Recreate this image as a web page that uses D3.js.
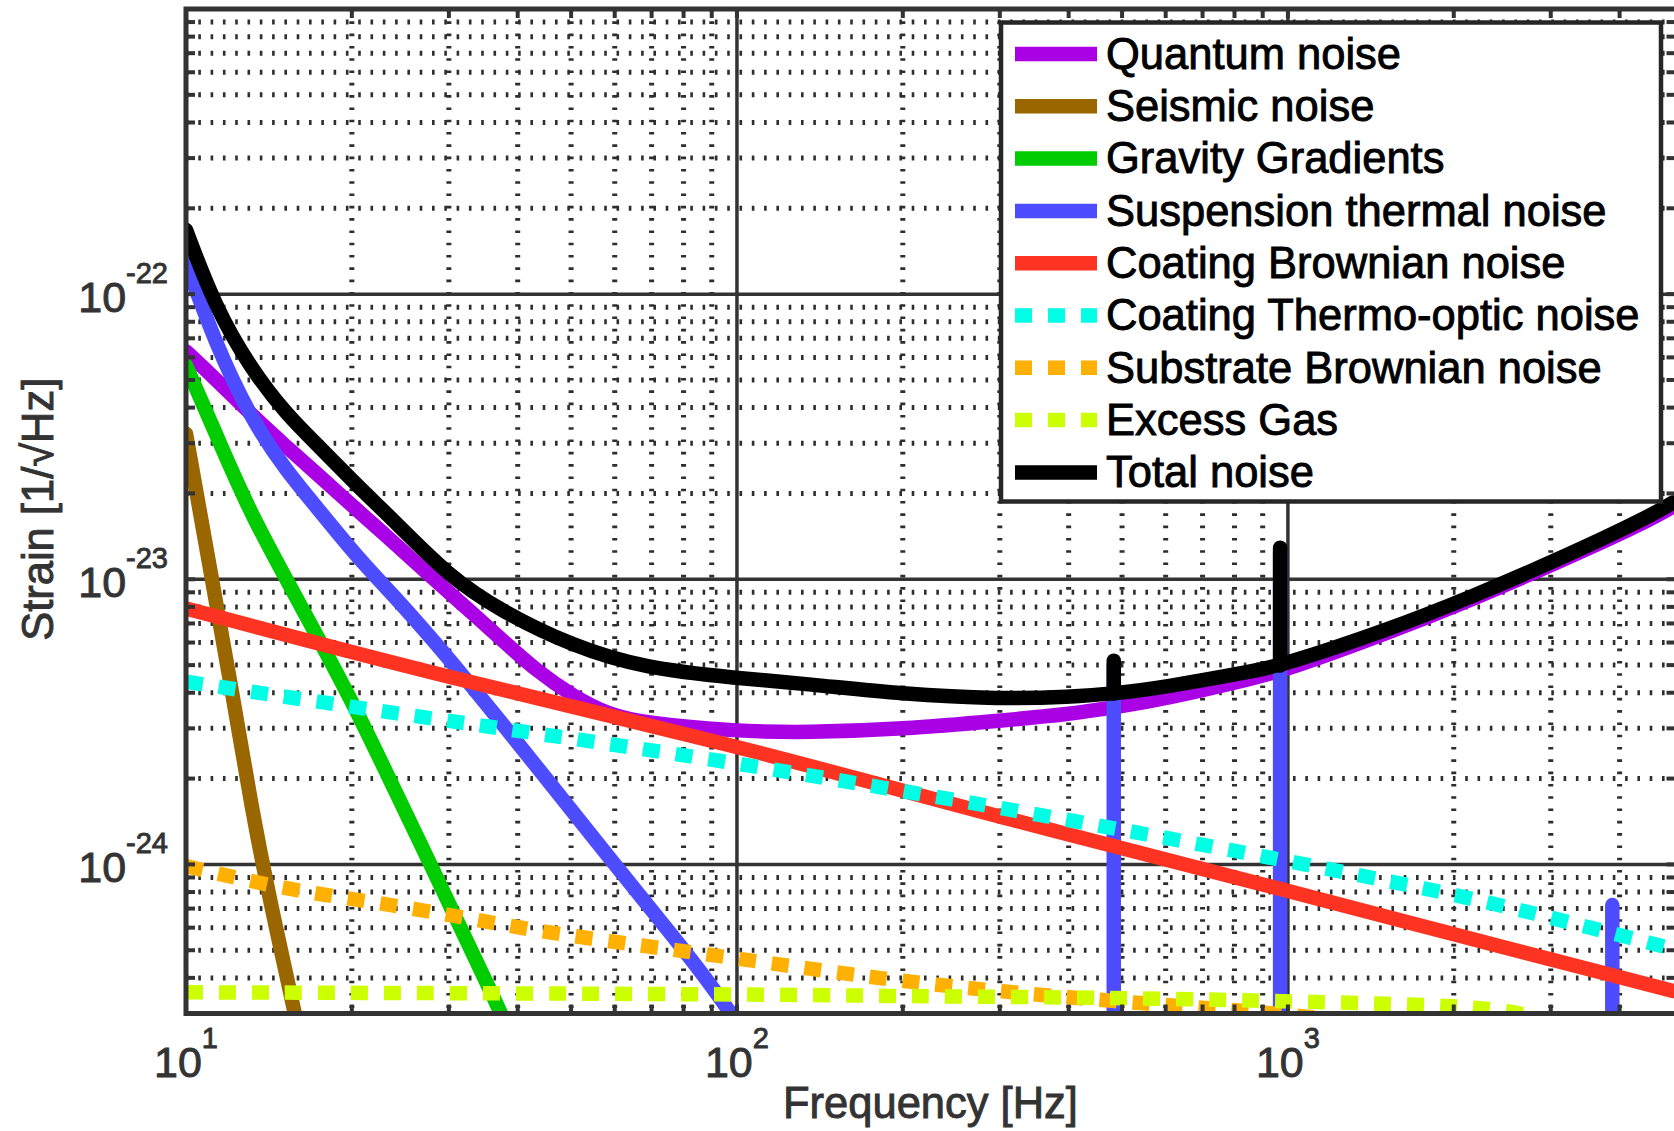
<!DOCTYPE html>
<html>
<head>
<meta charset="utf-8">
<script src="https://cdn.jsdelivr.net/npm/d3@7"></script>
<style>
  html, body { margin:0; padding:0; background:#fff; }
  svg { display:block; }
  text { font-family: "Liberation Sans", Arial, Helvetica, sans-serif; }
</style>
</head>
<body>
<svg id="chart" width="1674" height="1131"></svg>
<script>
// ─── Data ([Hz, strain]) ─────────────────────────────────
const seriesNames = [
  'Quantum noise', 'Seismic noise', 'Gravity Gradients', 'Suspension thermal noise',
  'Coating Brownian noise', 'Coating Thermo-optic noise', 'Substrate Brownian noise',
  'Excess Gas', 'Total noise'
];

const quantumNoise = [
  [10, 6.3e-23], [11.3, 5.05e-23], [13.1, 3.8e-23], [15.2, 2.92e-23], [17.7, 2.25e-23],
  [20.5, 1.74e-23], [23.9, 1.34e-23], [27.7, 1.03e-23], [32.2, 7.98e-24], [37.3, 6.17e-24],
  [43.4, 4.75e-24], [50.4, 3.89e-24], [58.3, 3.36e-24], [67.8, 3.13e-24], [100, 2.93e-24],
  [134, 2.9e-24], [200, 2.98e-24], [300, 3.19e-24], [404, 3.37e-24], [483, 3.55e-24],
  [596, 3.8e-24], [879, 4.53e-24], [1000, 4.84e-24], [1512, 6.46e-24], [2166, 8.51e-24],
  [3102, 1.15e-23], [4447, 1.58e-23], [5000, 1.8e-23]
];

const seismicNoise = [
  [10, 3.24e-23], [11.32, 8.43e-24], [12.2, 3.77e-24], [13.14, 1.6e-24],
  [14.17, 7.6e-25], [15.7, 3.1e-25], [16.5, 2.0e-25]
];

const gravityGradients = [
  [10, 5.62e-23], [11.3, 3.28e-23], [13.1, 1.69e-23], [15.96, 8.43e-24], [20, 3.77e-24],
  [23.9, 1.83e-24], [29.8, 7.53e-25], [36.3, 3.37e-25], [40, 2.24e-25]
];

const suspensionThermal = [
  [10, 1.29e-22], [11.3, 6.73e-23], [13.1, 3.67e-23], [15.2, 2.4e-23], [17.7, 1.69e-23],
  [20.5, 1.19e-23], [23.9, 8.71e-24], [27.7, 6.31e-24], [32.2, 4.47e-24], [37.3, 3.16e-24],
  [43.4, 2.19e-24], [58.3, 1.07e-24], [78.7, 5.25e-25], [95.5, 3.24e-25], [120, 1.6e-25],
  [300, 4e-26], [5000, 1e-26]
];

// violin modes: [Hz, base, peak]
const suspensionPeaks = [[483, 1e-26, 5.0e-24], [968, 1e-26, 1.25e-23], [3880, 1e-26, 7.2e-25]];

const coatingBrownian = [
  [10, 7.9e-24], [30, 4.5e-24], [100, 2.62e-24], [300, 1.46e-24],
  [1000, 8.1e-25], [2000, 5.68e-25], [5000, 3.6e-25]
];

const coatingThermoOptic = [
  [10, 4.37e-24], [23.9, 3.39e-24], [43.4, 2.88e-24], [91.5, 2.33e-24], [200, 1.81e-24],
  [300, 1.58e-24], [483, 1.34e-24], [879, 1.08e-24], [1968, 7.94e-25], [2985, 6.53e-25],
  [4865, 5.13e-25], [5000, 5.05e-25]
];

const substrateBrownian = [
  [10, 9.86e-25], [15.2, 8.17e-25], [20.5, 7.53e-25], [30.8, 6.61e-25], [43.4, 5.83e-25],
  [67.8, 5.18e-25], [100, 4.68e-25], [134, 4.32e-25], [200, 3.89e-25], [300, 3.59e-25],
  [483, 3.31e-25], [800, 3.09e-25], [1200, 2.88e-25], [2000, 2.5e-25], [5000, 2e-25]
];

const excessGas = [
  [10, 3.56e-25], [100, 3.51e-25], [200, 3.45e-25], [483, 3.41e-25], [883, 3.33e-25],
  [1514, 3.25e-25], [2584, 3.13e-25], [3000, 2.75e-25], [5000, 2.5e-25]
];

const totalNoise = [
  [10, 1.68e-22], [11.3, 9.0e-23], [13.1, 5.5e-23], [15.2, 3.79e-23], [17.7, 2.84e-23],
  [20.5, 2.12e-23], [23.9, 1.6e-23], [29.9, 1.03e-23], [37.3, 7.73e-24], [50.4, 5.82e-24],
  [67.8, 4.88e-24], [100, 4.5e-24], [134, 4.3e-24], [200, 3.95e-24], [300, 3.8e-24],
  [404, 3.87e-24], [483, 3.97e-24], [596, 4.18e-24], [879, 4.79e-24], [968, 4.98e-24],
  [1512, 6.62e-24], [2166, 8.71e-24], [3102, 1.175e-23], [4447, 1.63e-23], [5000, 1.86e-23]
];

const totalPeaks = [[483, 3.97e-24, 5.18e-24], [968, 4.98e-24, 1.29e-23]];

const xMajorTicks = [10, 100, 1000];
const yMajorTicks = [1e-24, 1e-23, 1e-22];

const seriesData = [
  quantumNoise, seismicNoise, gravityGradients, suspensionThermal, coatingBrownian,
  coatingThermoOptic, substrateBrownian, excessGas, totalNoise
];
const seriesPeaks = [null, null, null, suspensionPeaks, null, null, null, null, totalPeaks];

// ─── Styles ─────────────────────────────────────
const seriesStyle = [
  { color:'#aa00e6', dash:null },
  { color:'#996600', dash:null },
  { color:'#00cc00', dash:null },
  { color:'#4d4dff', dash:null },
  { color:'#ff3322', dash:null },
  { color:'#00ffe4', dash:'17,16' },
  { color:'#ffb000', dash:'17,16' },
  { color:'#ccff00', dash:'17,16' },
  { color:'#000000', dash:null }
];

const plot = { left:186, right:1673, top:9, bottom:1013.5 };
const frameRight = 1677.5;   // axes box runs just past the cropped edge
const LW = 14.5;

const svg = d3.select('#chart');
const x = d3.scaleLog().domain([10, 5000]).range([plot.left, plot.right]);
const y = d3.scaleLog().domain([3e-25, 1e-21]).range([plot.bottom, plot.top]);

const isMajor = v => Math.abs(Math.log10(v) - Math.round(Math.log10(v))) < 1e-6;

svg.append('defs').append('clipPath').attr('id', 'plotClip')
  .append('rect')
  .attr('x', plot.left).attr('y', plot.top)
  .attr('width', frameRight - plot.left).attr('height', plot.bottom - plot.top);

// ─── Grid ───────────────────────────────────────
const xt = x.ticks().filter(v => v > 10.001 && v < 4999);
const yt = y.ticks().filter(v => v > 3.001e-25 && v < 0.999e-21);
const grid = svg.append('g');

grid.selectAll('.xminor').data(xt.filter(v => !isMajor(v))).join('line')
  .attr('x1', d => x(d)).attr('x2', d => x(d))
  .attr('y1', plot.top).attr('y2', plot.bottom)
  .attr('stroke', '#2e2e2e').attr('stroke-width', 5).attr('stroke-dasharray', '2.6,9.7');

grid.selectAll('.yminor').data(yt.filter(v => !isMajor(v))).join('line')
  .attr('x1', plot.left).attr('x2', frameRight)
  .attr('y1', d => y(d)).attr('y2', d => y(d))
  .attr('stroke', '#2e2e2e').attr('stroke-width', 5).attr('stroke-dasharray', '2.6,9.7');

grid.selectAll('.xmajor').data(xt.filter(isMajor)).join('line')
  .attr('x1', d => x(d)).attr('x2', d => x(d))
  .attr('y1', plot.top).attr('y2', plot.bottom)
  .attr('stroke', '#333').attr('stroke-width', 3.5);

grid.selectAll('.ymajor').data(yt.filter(isMajor)).join('line')
  .attr('x1', plot.left).attr('x2', frameRight)
  .attr('y1', d => y(d)).attr('y2', d => y(d))
  .attr('stroke', '#333').attr('stroke-width', 3.5);

// ─── Curves ─────────────────────────────────────
const line = d3.line()
  .x(d => x(d[0]))
  .y(d => y(d[1]))
  .curve(d3.curveBasis);

const curves = svg.append('g').attr('clip-path', 'url(#plotClip)');
seriesData.forEach((data, i) => {
  const st = seriesStyle[i];
  curves.append('path')
    .datum(data)
    .attr('d', line)
    .attr('fill', 'none')
    .attr('stroke', st.color)
    .attr('stroke-width', LW)
    .attr('stroke-linejoin', 'round')
    .attr('stroke-linecap', st.dash ? 'butt' : 'round')
    .attr('stroke-dasharray', st.dash);

  // narrow resonance spikes drawn as straight segments
  (seriesPeaks[i] || []).forEach(p => {
    curves.append('line')
      .attr('x1', x(p[0])).attr('x2', x(p[0]))
      .attr('y1', y(p[1])).attr('y2', y(p[2]))
      .attr('stroke', st.color)
      .attr('stroke-width', LW)
      .attr('stroke-linecap', 'round');
  });
});

// ─── Axes box & inward ticks ────────────────────
const axes = svg.append('g');
const tickLen = 9;
xt.forEach(v => {
  axes.append('line').attr('x1', x(v)).attr('x2', x(v))
    .attr('y1', plot.bottom).attr('y2', plot.bottom - tickLen)
    .attr('stroke', '#333').attr('stroke-width', 4);
  axes.append('line').attr('x1', x(v)).attr('x2', x(v))
    .attr('y1', plot.top).attr('y2', plot.top + tickLen)
    .attr('stroke', '#333').attr('stroke-width', 4);
});
yt.forEach(v => {
  axes.append('line').attr('x1', plot.left).attr('x2', plot.left + tickLen)
    .attr('y1', y(v)).attr('y2', y(v))
    .attr('stroke', '#333').attr('stroke-width', 4);
  axes.append('line').attr('x1', frameRight).attr('x2', frameRight - tickLen - 2)
    .attr('y1', y(v)).attr('y2', y(v))
    .attr('stroke', '#333').attr('stroke-width', 4);
});
axes.append('rect')
  .attr('x', plot.left).attr('y', plot.top)
  .attr('width', frameRight - plot.left).attr('height', plot.bottom - plot.top)
  .attr('fill', 'none').attr('stroke', '#333').attr('stroke-width', 5);

// ─── Tick labels ────────────────────────────────
xMajorTicks.forEach(v => {
  const t = svg.append('text')
    .attr('x', x(v)).attr('y', 1076.5)
    .attr('text-anchor', 'middle').attr('font-size', 43)
    .attr('fill', '#333').attr('stroke', '#333').attr('stroke-width', 0.9);
  t.append('tspan').text('10');
  t.append('tspan').attr('dy', -29).attr('font-size', 29).text(Math.round(Math.log10(v)));
});

yMajorTicks.forEach(v => {
  const t = svg.append('text')
    .attr('x', 168).attr('y', y(v) + 17.7)
    .attr('text-anchor', 'end').attr('font-size', 43)
    .attr('fill', '#333').attr('stroke', '#333').attr('stroke-width', 0.9);
  t.append('tspan').text('10');
  t.append('tspan').attr('dy', -28.7).attr('font-size', 29).text(Math.round(Math.log10(v)));
});

// ─── Axis titles ────────────────────────────────
svg.append('text')
  .attr('x', (plot.left + plot.right) / 2 + 1).attr('y', 1118)
  .attr('text-anchor', 'middle').attr('font-size', 43.5)
  .attr('fill', '#333').attr('stroke', '#333').attr('stroke-width', 0.9)
  .text('Frequency [Hz]');

svg.append('text')
  .attr('transform', `translate(53,${(plot.top + plot.bottom) / 2 - 2}) rotate(-90)`)
  .attr('text-anchor', 'middle').attr('font-size', 43.5)
  .attr('fill', '#333').attr('stroke', '#333').attr('stroke-width', 0.9)
  .text('Strain [1/\u221AHz]');

// ─── Legend ─────────────────────────────────────
const lg = svg.append('g');
lg.append('rect')
  .attr('x', 1001).attr('y', 22.5).attr('width', 660).attr('height', 479)
  .attr('fill', '#fff').attr('stroke', '#262626').attr('stroke-width', 4.5);

seriesNames.forEach((name, i) => {
  const st = seriesStyle[i];
  const cy = 54 + i * 52.3;
  lg.append('line')
    .attr('x1', 1015).attr('x2', 1097).attr('y1', cy).attr('y2', cy)
    .attr('stroke', st.color).attr('stroke-width', LW)
    .attr('stroke-dasharray', st.dash);
  lg.append('text')
    .attr('x', 1106).attr('y', cy + 14.8)
    .attr('font-size', 43.5)
    .attr('fill', '#000').attr('stroke', '#000').attr('stroke-width', 0.9)
    .text(name);
});
</script>
</body>
</html>
